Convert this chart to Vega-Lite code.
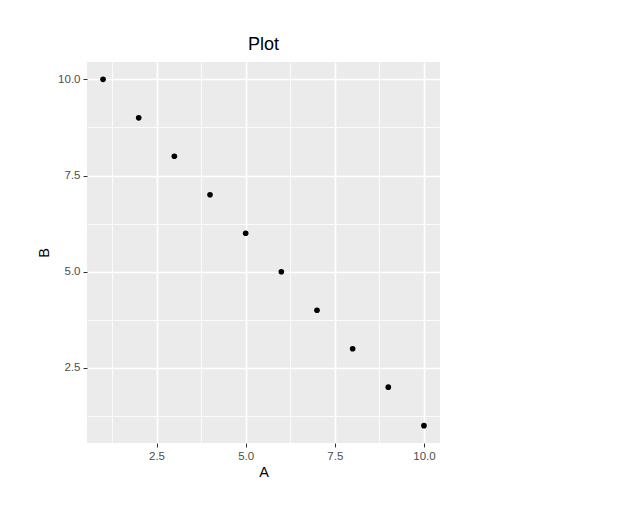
{
  "$schema": "https://vega.github.io/schema/vega-lite/v6.json",
  "width": 353,
  "height": 381,
  "autosize": {"type": "none"},
  "padding": {"left": 87, "top": 62, "right": 189, "bottom": 77},
  "background": "white",
  "title": {"text": "Plot", "anchor": "middle", "frame": "group", "font": "Liberation Sans", "fontSize": 18, "fontWeight": "normal", "color": "black", "offset": 8},
  "config": {
    "view": {"fill": "#EBEBEB", "stroke": null},
    "axis": {"domain": false, "labelFont": "Liberation Sans", "titleFont": "Liberation Sans", "labelFontSize": 11.5, "labelColor": "#4D4D4D", "titleFontSize": 14.5, "titleFontWeight": "normal", "titleColor": "black", "tickColor": "#333333", "tickSize": 4, "tickWidth": 1, "gridColor": "white"}
  },
  "data": {"values": [
    {"A": 1, "B": 10}, {"A": 2, "B": 9}, {"A": 3, "B": 8}, {"A": 4, "B": 7}, {"A": 5, "B": 6},
    {"A": 6, "B": 5}, {"A": 7, "B": 4}, {"A": 8, "B": 3}, {"A": 9, "B": 2}, {"A": 10, "B": 1}
  ]},
  "layer": [
    {
      "mark": {"type": "point", "opacity": 0},
      "encoding": {
        "x": {"field": "A", "type": "quantitative", "scale": {"domain": [0.55, 10.45], "nice": false, "zero": false},
              "axis": {"orient": "top", "values": [1.25, 3.75, 6.25, 8.75], "labels": false, "ticks": false, "title": null, "grid": true, "gridWidth": 0.8}},
        "y": {"field": "B", "type": "quantitative", "scale": {"domain": [0.55, 10.45], "nice": false, "zero": false},
              "axis": {"orient": "right", "values": [1.25, 3.75, 6.25, 8.75], "labels": false, "ticks": false, "title": null, "grid": true, "gridWidth": 0.8}}
      }
    },
    {
      "mark": {"type": "circle", "color": "black", "opacity": 1, "size": 32},
      "encoding": {
        "x": {"field": "A", "type": "quantitative",
              "axis": {"orient": "bottom", "values": [2.5, 5, 7.5, 10], "format": ".1f", "grid": true, "gridWidth": 1.6, "labelPadding": 3, "titlePadding": 4}},
        "y": {"field": "B", "type": "quantitative",
              "axis": {"orient": "left", "values": [2.5, 5, 7.5, 10], "format": ".1f", "grid": true, "gridWidth": 1.6, "labelPadding": 3, "titlePadding": 6}}
      }
    }
  ],
  "resolve": {"axis": {"x": "independent", "y": "independent"}}
}
